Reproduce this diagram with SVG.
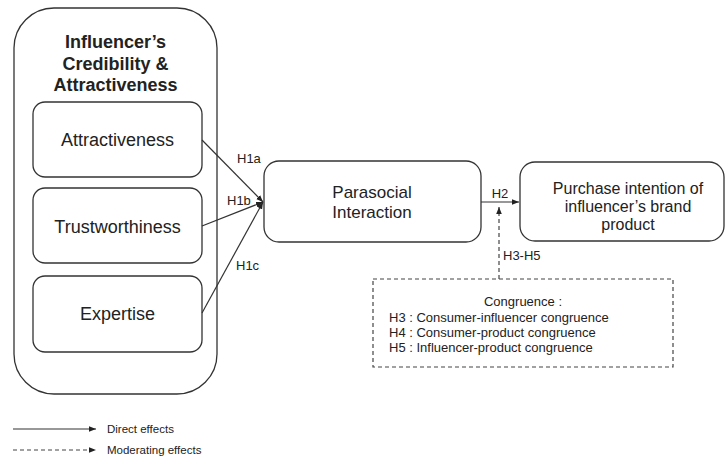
<svg xmlns="http://www.w3.org/2000/svg" width="726" height="457" viewBox="0 0 726 457">
<style>
.box{fill:#fff;stroke:#333;stroke-width:1.3}
.dbox{fill:#fff;stroke:#444;stroke-width:1.2;stroke-dasharray:4 3}
.t{font-family:"Liberation Sans",Arial,sans-serif;fill:#222}
.c{text-anchor:middle}
.b{font-weight:bold;font-size:18px}
.n{font-size:18px}
.m{font-size:16px}
.s{font-size:13px}
.l{font-size:11.5px}
.line{stroke:#333;stroke-width:1.2;fill:none}
.dash{stroke:#444;stroke-width:1.2;fill:none;stroke-dasharray:4 3}
</style>
<defs>
<marker id="ah" viewBox="0 0 10 10" refX="10" refY="5" markerWidth="7" markerHeight="7" orient="auto" markerUnits="userSpaceOnUse">
<path d="M0,1 L10,5 L0,9 z" fill="#222"/>
</marker>
</defs>
<rect width="726" height="457" fill="#fff"/>
<g id="group-credibility">
<rect class="box" x="14" y="8" width="203" height="386" rx="40" ry="40"/>
<text class="t c b" x="115.5" y="48">Influencer’s</text>
<text class="t c b" x="115.5" y="70">Credibility &amp;</text>
<text class="t c b" x="115.5" y="91">Attractiveness</text>
</g>
<g id="node-attractiveness">
<rect class="box" x="33" y="102" width="169" height="75" rx="12" ry="12"/>
<text class="t c n" x="117.5" y="146">Attractiveness</text>
</g>
<g id="node-trustworthiness">
<rect class="box" x="33" y="188" width="169" height="75" rx="12" ry="12"/>
<text class="t c n" x="117.5" y="233">Trustworthiness</text>
</g>
<g id="node-expertise">
<rect class="box" x="33" y="276" width="169" height="76" rx="12" ry="12"/>
<text class="t c n" x="117.5" y="320">Expertise</text>
</g>
<g id="node-parasocial">
<rect class="box" x="264" y="161" width="217" height="81" rx="15" ry="15"/>
<text class="t c" x="372" y="198" style="font-size:17px">Parasocial</text>
<text class="t c" x="372" y="218" style="font-size:17px">Interaction</text>
</g>
<g id="node-purchase">
<rect class="box" x="520" y="162" width="204" height="79" rx="15" ry="15"/>
<text class="t c m" x="628" y="194">Purchase intention of</text>
<text class="t c m" x="628" y="212">influencer’s brand</text>
<text class="t c m" x="628" y="230">product</text>
</g>
<g id="node-congruence">
<rect class="dbox" x="373" y="279" width="300" height="88"/>
<text class="t c s" x="523" y="306">Congruence :</text>
<text class="t s" x="389" y="322">H3 : Consumer-influencer congruence</text>
<text class="t s" x="389" y="337">H4 : Consumer-product congruence</text>
<text class="t s" x="389" y="352">H5 : Influencer-product congruence</text>
</g>
<g id="connectors">
<line class="line" x1="202" y1="140" x2="263" y2="202" marker-end="url(#ah)"/>
<line class="line" x1="202" y1="226" x2="263" y2="202" marker-end="url(#ah)"/>
<line class="line" x1="202" y1="313" x2="263" y2="202" marker-end="url(#ah)"/>
<line class="line" x1="481" y1="202" x2="519" y2="202" marker-end="url(#ah)"/>
<line class="dash" x1="499" y1="279" x2="499" y2="207" marker-end="url(#ah)"/>
<text class="t s" x="237" y="163">H1a</text>
<text class="t s" x="227" y="205">H1b</text>
<text class="t s" x="236" y="270">H1c</text>
<text class="t c s" x="500" y="198">H2</text>
<text class="t s" x="503" y="260">H3-H5</text>
</g>
<g id="legend">
<line class="line" x1="13" y1="429" x2="96" y2="429" marker-end="url(#ah)"/>
<text class="t l" x="107" y="433">Direct effects</text>
<line class="dash" x1="13" y1="450" x2="96" y2="450" marker-end="url(#ah)"/>
<text class="t l" x="107" y="454">Moderating effects</text>
</g>
</svg>
